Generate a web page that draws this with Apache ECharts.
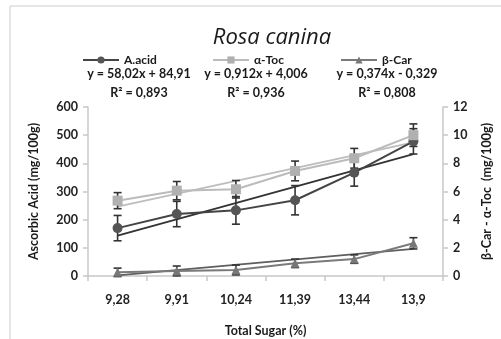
<!DOCTYPE html>
<html>
<head>
<meta charset="utf-8">
<script src="https://cdn.jsdelivr.net/npm/echarts@6/dist/echarts.min.js"></script>
<style>
  html, body { margin: 0; padding: 0; background: #fff; }
  #chart { width: 501px; height: 339px; }
</style>
</head>
<body>
<div id="chart"></div>
<script>
// Total sugar (%) categories
const categories = ['9,28', '9,91', '10,24', '11,39', '13,44', '13,9'];

// Ascorbic acid (mg/100g), left axis
const aAcid = [170, 220, 233, 269, 367, 478];
const aAcidErr = [45, 45, 49, 52, 48, 45];
const aAcidTrend = [143, 433];

// alpha-tocopherol (mg/100g), right axis
const aToc = [5.35, 6.06, 6.16, 7.46, 8.36, 10.0];
const aTocErr = [0.57, 0.65, 0.62, 0.7, 0.7, 0.8];
const aTocTrend = [4.92, 9.48];

// beta-carotene (mg/100g), right axis
const bCar = [0.26, 0.36, 0.43, 0.9, 1.2, 2.32];
const bCarErr = [0.3, 0.35, 0.35, 0.3, 0.3, 0.4];
const bCarTrend = [0.05, 1.92];

const leftTicks = [0, 100, 200, 300, 400, 500, 600];
const rightTicks = [0, 2, 4, 6, 8, 10, 12];

const FONT = 'Lato';
const chart = echarts.init(document.getElementById('chart'));

// error bar as custom series
function errSeries(name, vals, errs, yIdx) {
    return {
        name: name + ' err',
        type: 'custom',
        yAxisIndex: yIdx,
        z: 3,
        data: vals.map((v, i) => [i, v - errs[i], v + errs[i]]),
        renderItem: function (params, api) {
            const lo = api.coord([api.value(0), api.value(1)]);
            const hi = api.coord([api.value(0), api.value(2)]);
            const w = 4;
            const st = {stroke: '#333', lineWidth: 1.6};
            return {
                type: 'group',
                children: [
                    {type: 'line', shape: {x1: lo[0], y1: lo[1], x2: hi[0], y2: hi[1]}, style: st},
                    {type: 'line', shape: {x1: lo[0] - w, y1: lo[1], x2: lo[0] + w, y2: lo[1]}, style: st},
                    {type: 'line', shape: {x1: hi[0] - w, y1: hi[1], x2: hi[0] + w, y2: hi[1]}, style: st}
                ]
            };
        }
    };
}

function trendSeries(name, ends, yIdx, color) {
    return {
        name: name + ' trend',
        type: 'line',
        yAxisIndex: yIdx,
        symbol: 'none',
        z: 2,
        lineStyle: {color: color, width: 1.8},
        data: [[0, ends[0]], [categories.length - 1, ends[1]]]
    };
}

const legendText = {fontFamily: FONT, fontSize: 12, fontWeight: 'bold', color: '#1a1a1a'};
const eqFont = 'bold 12.5px Lato';

let option = {
    animation: false,
    title: {
        text: 'Rosa canina',
        left: 267,
        textAlign: 'center',
        top: 22,
        textStyle: {fontFamily: 'Open Sans', fontStyle: 'italic', fontWeight: 'normal', fontSize: 22, color: '#1a1a1a'}
    },
    legend: [
        {data: ['A.acid'], left: 77, top: 49, itemWidth: 36, itemHeight: 9, textStyle: legendText},
        {data: ['α-Toc'], left: 207, top: 49, itemWidth: 36, itemHeight: 9, textStyle: legendText},
        {data: ['β-Car'], left: 335, top: 49, itemWidth: 36, itemHeight: 9, textStyle: legendText}
    ],
    grid: {left: 88, right: 58, top: 107, bottom: 63},
    xAxis: {
        type: 'category',
        data: categories,
        boundaryGap: true,
        name: 'Total Sugar (%)',
        nameLocation: 'middle',
        nameGap: 48,
        nameTextStyle: {fontFamily: FONT, fontWeight: 'bold', fontSize: 12.5, color: '#1a1a1a'},
        axisLine: {lineStyle: {color: '#c8c8c8', width: 1.5}},
        axisTick: {show: true, length: 5, lineStyle: {color: '#c8c8c8', width: 1.5}},
        axisLabel: {fontFamily: FONT, fontWeight: 'bold', fontSize: 12.5, color: '#222', margin: 17}
    },
    yAxis: [
        {
            type: 'value',
            min: leftTicks[0],
            max: leftTicks[leftTicks.length - 1],
            interval: 100,
            name: 'Ascorbic Acid (mg/100g)',
            nameLocation: 'middle',
            nameGap: 48,
            nameTextStyle: {fontFamily: FONT, fontWeight: 'bold', fontSize: 12.5, color: '#1a1a1a'},
            axisLine: {show: true, lineStyle: {color: '#c8c8c8', width: 1.5}},
            axisTick: {show: true, length: 5, lineStyle: {color: '#c8c8c8', width: 1.5}},
            axisLabel: {fontFamily: FONT, fontWeight: 'bold', fontSize: 12.5, color: '#222', margin: 10},
            splitLine: {show: false}
        },
        {
            type: 'value',
            position: 'right',
            min: rightTicks[0],
            max: rightTicks[rightTicks.length - 1],
            interval: 2,
            name: 'β-Car - α-Toc  (mg/100g)',
            nameLocation: 'middle',
            nameGap: 37,
            nameRotate: 90,
            nameTextStyle: {fontFamily: FONT, fontWeight: 'bold', fontSize: 12.5, color: '#1a1a1a'},
            axisLine: {show: true, lineStyle: {color: '#c8c8c8', width: 1.5}},
            axisTick: {show: true, length: 5, lineStyle: {color: '#c8c8c8', width: 1.5}},
            axisLabel: {fontFamily: FONT, fontWeight: 'bold', fontSize: 12.5, color: '#222', margin: 10},
            splitLine: {show: false}
        }
    ],
    graphic: [
        // outer frame (top and left edge only visible)
        {type: 'line', shape: {x1: 10, y1: 6, x2: 501, y2: 6}, style: {stroke: '#dcdcdc', lineWidth: 1.5}},
        {type: 'line', shape: {x1: 10, y1: 6, x2: 10, y2: 339}, style: {stroke: '#dcdcdc', lineWidth: 1.5}},
        // trendline equations
        {type: 'text', x: 139, y: 67, style: {text: 'y = 58,02x + 84,91', textAlign: 'center', font: eqFont, fill: '#1a1a1a'}},
        {type: 'text', x: 139, y: 86, style: {text: 'R² = 0,893', textAlign: 'center', font: eqFont, fill: '#1a1a1a'}},
        {type: 'text', x: 256, y: 67, style: {text: 'y = 0,912x + 4,006', textAlign: 'center', font: eqFont, fill: '#1a1a1a'}},
        {type: 'text', x: 256, y: 86, style: {text: 'R² = 0,936', textAlign: 'center', font: eqFont, fill: '#1a1a1a'}},
        {type: 'text', x: 387, y: 67, style: {text: 'y = 0,374x - 0,329', textAlign: 'center', font: eqFont, fill: '#1a1a1a'}},
        {type: 'text', x: 387, y: 86, style: {text: 'R² = 0,808', textAlign: 'center', font: eqFont, fill: '#1a1a1a'}}
    ],
    series: [
        trendSeries('A.acid', aAcidTrend, 0, '#333'),
        trendSeries('α-Toc', aTocTrend, 1, '#bdbdbd'),
        trendSeries('β-Car', bCarTrend, 1, '#5e5e5e'),
        errSeries('A.acid', aAcid, aAcidErr, 0),
        errSeries('α-Toc', aToc, aTocErr, 1),
        errSeries('β-Car', bCar, bCarErr, 1),
        {
            name: 'A.acid',
            type: 'line',
            yAxisIndex: 0,
            z: 4,
            data: aAcid,
            symbol: 'circle',
            symbolSize: 10,
            itemStyle: {color: '#555'},
            lineStyle: {color: '#444', width: 2}
        },
        {
            name: 'α-Toc',
            type: 'line',
            yAxisIndex: 1,
            z: 4,
            data: aToc,
            symbol: 'rect',
            symbolSize: 10,
            itemStyle: {color: '#b0b0b0'},
            lineStyle: {color: '#bbb', width: 2}
        },
        {
            name: 'β-Car',
            type: 'line',
            yAxisIndex: 1,
            z: 4,
            data: bCar,
            symbol: 'triangle',
            symbolSize: 9,
            itemStyle: {color: '#777'},
            lineStyle: {color: '#7a7a7a', width: 2}
        }
    ]
};

chart.setOption(option);
</script>
</body>
</html>
